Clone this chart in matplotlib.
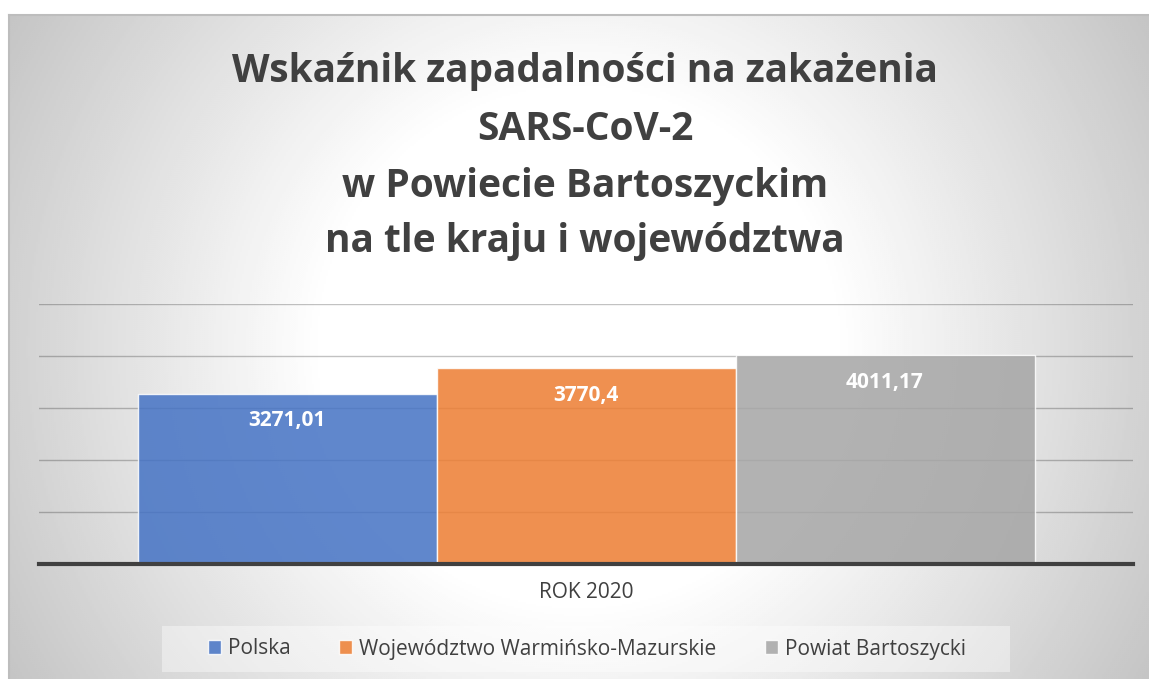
import numpy as np
import matplotlib.pyplot as plt
from matplotlib.patches import Patch, Rectangle

plt.rcParams['font.family'] = ['Open Sans', 'DejaVu Sans']

title_lines = ['Wskaźnik zapadalności na zakażenia', 'SARS-CoV-2',
               'w Powiecie Bartoszyckim', 'na tle kraju i województwa']
category = 'ROK 2020'
series = ['Polska', 'Województwo Warmińsko-Mazurskie', 'Powiat Bartoszycki']
values = [3271.01, 3770.4, 4011.17]
value_labels = ['3271,01', '3770,4', '4011,17']
colors = ['#4472C4', '#ED7D31', '#A5A5A5']

W, H = 1149, 679
fig = plt.figure(figsize=(W / 100, H / 100), dpi=100)
fig.patch.set_facecolor('white')

# radial grey background of the chart area (circular, in pixels)
fw, fh = W - 9, H - 15
bg = fig.add_axes([9 / W, 0, fw / W, fh / H])
yy, xx = np.mgrid[0:fh:332j, 0:fw:570j]
r = np.hypot(xx - fw / 2, yy - fh / 2) / (fw / 2)
t = np.clip((r - 0.45) / 0.71, 0, 1)
shade = 1 - t * 0.23
bg.imshow(shade, cmap='gray', vmin=0, vmax=1, extent=[0, 1, 0, 1],
          aspect='auto', interpolation='bilinear')
bg.set_xticks([])
bg.set_yticks([])
for s in bg.spines.values():
    s.set_color('#bdbdbd')
    s.set_linewidth(1.5)
bg.spines['bottom'].set_visible(False)
bg.spines['right'].set_visible(False)

# title
baselines = [82, 140, 197, 252]
for line, yb in zip(title_lines, baselines):
    fig.text(585 / W, 1 - yb / H, line, ha='center', va='baseline',
             fontsize=28, fontweight='bold', color='#404040')

# bars
ax = fig.add_axes([39 / W, (H - 564) / H, 1094 / W, 260 / H])
ax.patch.set_alpha(0)
width = 299 / 1094
pos = (np.arange(len(values)) - 1) * width
bars = ax.bar(pos, values, width, color=colors, alpha=0.85,
              edgecolor=(1, 1, 1, 0.6), linewidth=1, zorder=2)
for b, lab in zip(bars, value_labels):
    ax.annotate(lab, (b.get_x() + b.get_width() / 2, b.get_height()),
                xytext=(0, -19.5), textcoords='offset points',
                ha='center', va='center', color='white',
                fontsize=15, fontweight='bold', zorder=4)

ax.set_xlim(-0.5, 0.5)
ax.set_ylim(0, 5000)
ax.set_yticks(np.arange(1000, 5001, 1000))
ax.yaxis.grid(True, color='black', alpha=0.24, linewidth=1, zorder=1)
ax.set_axisbelow(True)
ax.set_xticks([0])
ax.set_xticklabels([category], fontsize=15, color='#404040')
ax.tick_params(length=0, labelleft=False, pad=13)
for k in ['top', 'left', 'right']:
    ax.spines[k].set_visible(False)
ax.spines['bottom'].set_color('#404040')
ax.spines['bottom'].set_linewidth(3)
ax.spines['bottom'].set_zorder(3)

# legend
fig.patches.append(Rectangle((162 / W, (H - 672) / H), 848 / W, 46 / H,
                             transform=fig.transFigure, facecolor='white',
                             alpha=0.4, edgecolor='none'))
handles = [Patch(facecolor=c, alpha=0.85, edgecolor=(1, 1, 1, 0.7)) for c in colors]
fig.legend(handles, series, loc='center', bbox_to_anchor=(587 / W, (H - 649) / H),
           ncol=3, frameon=False, fontsize=15, handlelength=0.62, handleheight=0.62,
           handletextpad=0.33, columnspacing=2.35, labelcolor='#404040')

plt.savefig('out.png', dpi=100)
